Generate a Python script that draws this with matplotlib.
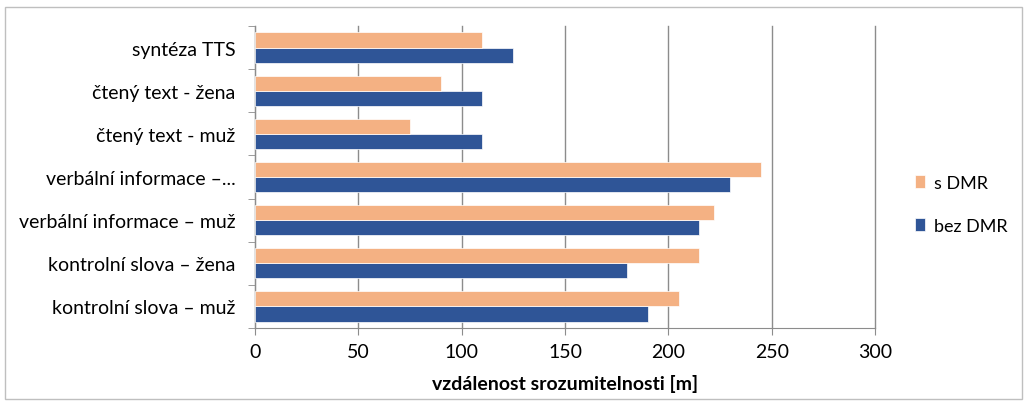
import matplotlib.pyplot as plt
import numpy as np
from matplotlib.patches import Rectangle

categories = [
    "kontrolní slova – muž",
    "kontrolní slova – žena",
    "verbální informace – muž",
    "verbální informace –...",
    "čtený text - muž",
    "čtený text - žena",
    "syntéza TTS",
]
s_dmr = [205, 215, 222, 245, 75, 90, 110]
bez_dmr = [190, 180, 215, 230, 110, 110, 125]
x_ticks = [0, 50, 100, 150, 200, 250, 300]

ORANGE = "#F4B183"
BLUE = "#2F5597"
GRID = "#8C8C8C"

plt.rcParams["font.family"] = ["Lato", "DejaVu Sans"]

fig = plt.figure(figsize=(10.27, 4.02), dpi=100)
fig.patches.append(Rectangle((0.005, 0.005), 0.99, 0.975, transform=fig.transFigure,
                             fill=False, edgecolor="#BFBFBF", linewidth=1))
ax = fig.add_axes([0.2483, 0.1816, 0.6037, 0.7514])

y = np.arange(len(categories))
h = 0.35
ax.barh(y - h / 2, bez_dmr, height=h, color=BLUE, edgecolor="white", linewidth=0.5,
        label="bez DMR", zorder=3)
ax.barh(y + h / 2, s_dmr, height=h, color=ORANGE, edgecolor="white", linewidth=0.5,
        label="s DMR", zorder=3)

ax.set_xlim(0, 300)
ax.set_ylim(-0.5, len(categories) - 0.5)
ax.set_xticks(x_ticks)
ax.tick_params(axis="x", labelsize=14, colors=GRID, labelcolor="black", length=5, pad=6)
ax.set_yticks(y)
ax.set_yticklabels(categories, fontsize=14)
ax.tick_params(axis="y", length=0, pad=14)
ax.set_yticks(np.arange(-0.5, len(categories), 1), minor=True)
ax.tick_params(axis="y", which="minor", length=5, color=GRID)

ax.grid(axis="x", color=GRID, linewidth=1, zorder=0)
for line in ax.get_xgridlines():
    line.set_clip_on(False)
for side in ["top", "right"]:
    ax.spines[side].set_visible(False)
for side in ["left", "bottom"]:
    ax.spines[side].set_color(GRID)

ax.set_xlabel("vzdálenost srozumitelnosti [m]", fontsize=14, fontweight="bold", labelpad=10)

handles, labels = ax.get_legend_handles_labels()
ax.legend(handles[::-1], labels[::-1], loc="center left", bbox_to_anchor=(1.065, 0.41),
          frameon=False, fontsize=13, handlelength=0.55, handleheight=0.75,
          labelspacing=1.5, handletextpad=0.5, borderaxespad=0, borderpad=0)

fig.savefig("out.png", dpi=100)
